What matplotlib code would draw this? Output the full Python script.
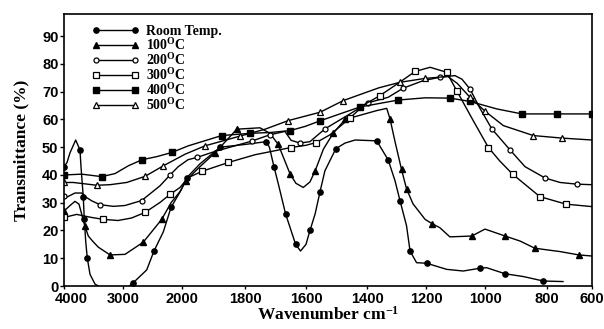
import numpy as np
import matplotlib
matplotlib.use("Agg")
import matplotlib.pyplot as plt
from matplotlib.transforms import ScaledTranslation

plt.rcParams['mathtext.fontset'] = 'custom'
plt.rcParams['mathtext.rm'] = 'Liberation Serif:bold'
plt.rcParams['mathtext.it'] = 'Liberation Serif:bold'
plt.rcParams['mathtext.bf'] = 'Liberation Serif:bold'

# FTIR spectra, transmittance (%) vs wavenumber (cm-1)
rt_wn = [4000, 3949, 3898, 3802, 3729, 3712, 3673, 3656, 3632, 3605, 3559, 3475, 3419, 3120,
         2825, 2598, 2475, 2317, 2186, 2017, 1985, 1943, 1879, 1800, 1731, 1720, 1705, 1689,
         1667, 1634, 1618, 1600, 1587, 1570, 1554, 1538, 1502, 1472, 1439, 1367, 1328, 1305,
         1288, 1266, 1254, 1232, 1198, 1130, 1074, 1017, 995, 935, 876, 812, 729]
rt_t = [43, 44.5, 48, 52.6, 49, 43, 32, 24, 16, 10, 4.2, 0.7, 0, -4,
        1.2, 5.8, 12.6, 19.5, 28.3, 34.5, 39, 44, 50, 51, 52, 50, 43, 36,
        26, 15, 12.6, 15, 20, 26, 34, 41.5, 49.5, 51.5, 52.6, 52.3, 45.4, 37.9,
        30.7, 21.7, 12.6, 8.4, 8.2, 6, 5.4, 6.4, 6.6, 4.4, 3.4, 1.8, 1.6]

t100_wn = [4000, 3898, 3814, 3746, 3695, 3644, 3588, 3508, 3419, 3220, 2966, 2656, 2344, 2186,
           2034, 1987, 1943, 1895, 1826, 1751, 1718, 1691, 1652, 1633, 1609, 1587, 1570, 1543,
           1511, 1472, 1367, 1333, 1322, 1305, 1283, 1266, 1244, 1203, 1180, 1153, 1119, 1045,
           1000, 935, 887, 839, 742, 659, 600]
t100_t = [27, 29, 30.5, 29.5, 25.5, 21.5, 18, 16, 14, 11.2, 11.4, 15.8, 24, 30,
          34, 38, 43, 48, 56.5, 57, 55, 51, 40.3, 37, 35.5, 37.5, 41.5, 49.3,
          55, 60, 63.2, 64, 60.2, 52, 42, 35, 29.6, 24, 22.5, 21, 17.7, 18,
          20.5, 18, 16.2, 13.6, 12.4, 11.2, 10.8]

t200_wn = [4000, 3954, 3814, 3700, 3627, 3531, 3390, 3164, 2966, 2683, 2373, 2203, 2063, 1981,
           1953, 1895, 1778, 1718, 1669, 1649, 1620, 1587, 1538, 1456, 1397, 1328, 1277, 1209,
           1153, 1102, 1078, 1051, 1017, 978, 919, 871, 806, 742, 668, 600]
t200_t = [32.5, 32, 33.5, 33.5, 32, 30.7, 29.3, 28.7, 29, 30.8, 36.1, 40, 43, 45.5,
          46.3, 48.5, 52.2, 54.5, 55.7, 52.5, 51.5, 52, 56.6, 62, 66, 68, 71.3, 74,
          75.2, 75.8, 74.5, 71, 64, 56.6, 49, 43, 38.9, 37.3, 36.7, 36.5]

t300_wn = [4000, 3785, 3559, 3334, 3085, 2854, 2627, 2373, 2203, 2034, 1981, 1937, 1853, 1767,
           1649, 1600, 1566, 1521, 1456, 1407, 1356, 1288, 1237, 1186, 1130, 1096, 1040, 989,
           952, 911, 823, 716, 600]
t300_t = [24.7, 25.8, 24.8, 24, 23.6, 24.5, 26.5, 30.1, 33, 35.5, 39, 41.3, 44.5, 47.3,
          49.9, 50.7, 51.7, 54.5, 60.5, 65.5, 68.6, 73.5, 77.3, 78.8, 77, 70.4, 59.6, 49.9,
          45, 40.3, 32.2, 29.5, 28.6]

t400_wn = [4000, 3700, 3361, 3136, 2910, 2678, 2429, 2175, 1980, 1874, 1784, 1718, 1652, 1603,
           1554, 1489, 1423, 1294, 1203, 1119, 1051, 962, 881, 757, 616, 600]
t400_t = [40, 40.3, 39.4, 40.5, 43.3, 45.5, 46.6, 48.1, 50.5, 54.2, 55, 55.3, 56, 57.5,
          59.5, 62, 64.5, 67, 67.8, 67.7, 66.5, 63.8, 62, 62, 62, 62]

t500_wn = [4000, 3842, 3446, 3220, 2937, 2627, 2317, 1990, 1927, 1816, 1734, 1658, 1554, 1478,
           1360, 1288, 1203, 1126, 1094, 1051, 1000, 941, 844, 735, 600]
t500_t = [37.3, 37.3, 36.3, 36.5, 37.3, 39.5, 43.3, 47.5, 50.5, 54, 56.5, 59.6, 62.6, 66.8,
          71.4, 73.4, 74.8, 75.5, 73, 68, 63, 57.8, 54.2, 53.3, 52.6]

labels = ['Room Temp.', r'100$^{\mathrm{O}}$C', r'200$^{\mathrm{O}}$C',
          r'300$^{\mathrm{O}}$C', r'400$^{\mathrm{O}}$C', r'500$^{\mathrm{O}}$C']
xticks = [4000, 3000, 2000, 1800, 1600, 1400, 1200, 1000, 800, 600]

# the wavenumber axis is compressed above 2000 and not quite even below it
brk_wn = np.array([600, 800, 1000, 1200, 1400, 1600, 1800, 2000, 3000, 4000])
brk_pos = -np.array([592, 547, 485, 426, 367, 306, 245, 182, 123, 64], dtype=float)

def fwd(w):
    return np.interp(w, brk_wn, brk_pos)

def inv(u):
    return np.interp(u, brk_pos, brk_wn)

fig = plt.figure(figsize=(6.04, 3.29), dpi=100)
ax = fig.add_axes([64 / 604, 1 - 286 / 329, 528 / 604, 272 / 329])
ax.set_xscale('function', functions=(fwd, inv))

kw = dict(color='black', lw=1.0, markevery=0.065)
ax.plot(rt_wn, rt_t, marker='o', ms=3.8, mfc='black', label=labels[0], **kw)
ax.plot(t100_wn, t100_t, marker='^', ms=4.5, mfc='black', label=labels[1], **kw)
ax.plot(t200_wn, t200_t, marker='o', ms=3.6, mfc='white', mew=0.9, label=labels[2], **kw)
ax.plot(t300_wn, t300_t, marker='s', ms=4.8, mfc='white', mew=0.9, label=labels[3], **kw)
ax.plot(t400_wn, t400_t, marker='s', ms=4.2, mfc='black', label=labels[4], **kw)
ax.plot(t500_wn, t500_t, marker='^', ms=5, mfc='white', mew=0.9, label=labels[5], **kw)

ax.set_xlim(4000, 600)
ax.set_ylim(0, 98)
ax.set_xticks(xticks)
ax.set_xticklabels([str(t) for t in xticks])
ax.set_yticks(range(0, 100, 10))
ax.minorticks_off()
ax.tick_params(axis='y', direction='out', length=3, width=1, pad=1)
ax.tick_params(axis='x', direction='out', length=2, width=1, pad=2)
for lab in ax.get_xticklabels() + ax.get_yticklabels():
    lab.set_family('Liberation Sans')
    lab.set_fontweight('bold')
    lab.set_fontsize(10.5)
# nudge the first x label clear of the "0"
first = ax.get_xticklabels()[0]
first.set_transform(first.get_transform() + ScaledTranslation(7 / 100, 0, fig.dpi_scale_trans))
for sp in ax.spines.values():
    sp.set_linewidth(1.2)

ax.set_xlabel('Wavenumber cm$^{-1}$', family='Liberation Serif', weight='bold', fontsize=12.5, labelpad=0)
ax.set_ylabel('Transmittance (%)', family='Liberation Serif', weight='bold', fontsize=12.5, labelpad=9)

ax.legend(loc='upper left', bbox_to_anchor=(0.043, 0.98), frameon=False, numpoints=2,
          handlelength=3.4, handletextpad=0.5, labelspacing=-0.07, borderaxespad=0,
          prop={'family': 'Liberation Serif', 'weight': 'bold', 'size': 10})

fig.savefig('out.png', dpi=100)
